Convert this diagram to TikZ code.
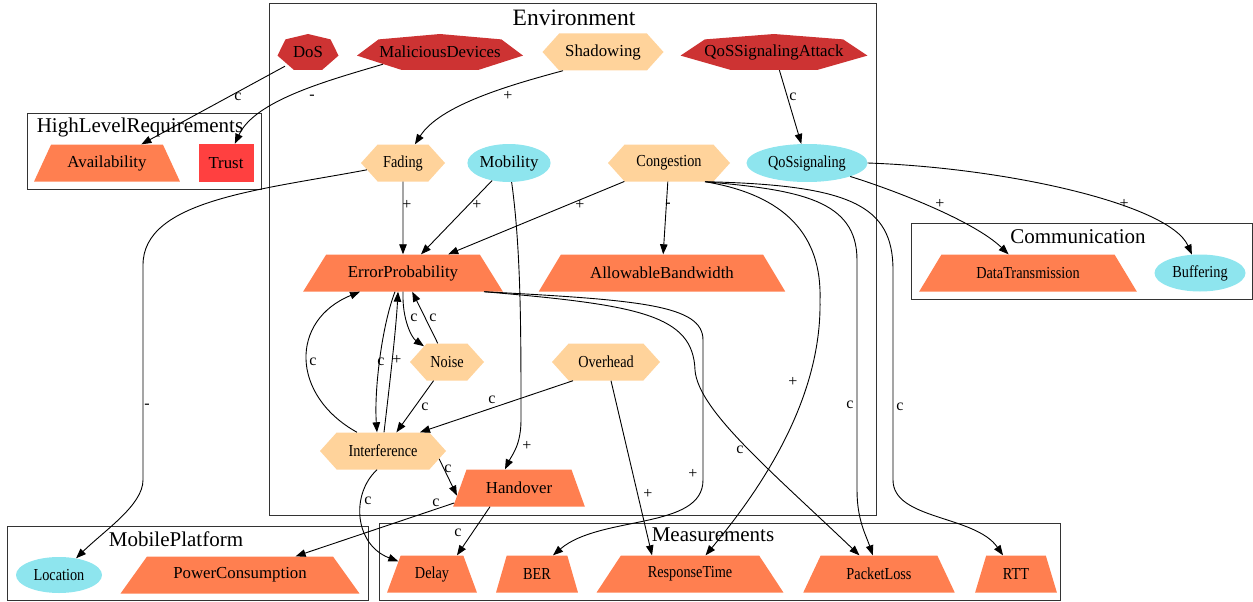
\documentclass[tikz,border=0pt]{standalone}
\usepackage{fontspec}
\setmainfont{Liberation Serif}
\newfontfamily\narrowfont[FakeStretch=0.85]{Liberation Serif}
\usetikzlibrary{calc,shapes.geometric,shapes.symbols,arrows.meta}
\definecolor{attack}{HTML}{CD3333}
\definecolor{trustred}{HTML}{FF4040}
\definecolor{hexcol}{HTML}{FFD39B}
\definecolor{ellcol}{HTML}{8EE5EE}
\definecolor{trapcol}{HTML}{FF7F50}
\newcommand\nodesize{\fontsize{16.8}{19}\selectfont}

\begin{document}
\begin{tikzpicture}
[x=1pt,y=-1pt,
 ar/.style={-{Triangle[length=10pt,width=7.5pt]},line width=0.9pt},
 lbl/.style={font=\fontsize{16}{16}\selectfont,inner sep=0pt},
 box/.style={draw=black!80,line width=0.9pt},
 title/.style={font=\fontsize{21}{21}\selectfont,inner sep=0pt},
 sept/.style={rectangle,inner sep=0pt,minimum height=36pt,font=\nodesize,
   path picture={\fill[attack] let \p1=(path picture bounding box.south west),
     \p2=(path picture bounding box.north east) in
     ({(\x1+\x2)/2},\y2) -- ({\x1+0.87*(\x2-\x1)},{\y1+0.85*(\y2-\y1)})
     -- (\x2,{\y1+0.4*(\y2-\y1)}) -- ({\x1+0.73*(\x2-\x1)},\y1)
     -- ({\x1+0.27*(\x2-\x1)},\y1) -- (\x1,{\y1+0.4*(\y2-\y1)})
     -- ({\x1+0.13*(\x2-\x1)},{\y1+0.85*(\y2-\y1)}) -- cycle;}},
 hexa/.style={signal,signal to=west and east,signal pointer angle=96,fill=hexcol,
   inner sep=0pt,minimum height=37pt,font=\nodesize},
 trap/.style={trapezium,trapezium stretches=true,trapezium angle=#1,fill=trapcol,
   inner sep=0pt,minimum height=37pt,font=\nodesize},
 ell/.style={ellipse,fill=ellcol,inner sep=0pt,minimum height=37pt,font=\nodesize},
 narrow/.style={font=\nodesize\narrowfont}]
\useasboundingbox (0,0) rectangle (1253,602);

\draw [box] (269,3) rectangle (876,515);
\draw [box] (27,113) rectangle (261,189);
\draw [box] (911,223) rectangle (1252,299);
\draw [box] (7,526) rectangle (368,600);
\draw [box] (379,523) rectangle (1060,600);
\node [title,font=\fontsize{23.5}{24}\selectfont] at (574,18) (envtitle) {Environment};
\node [title] at (140,127) (hlrtitle) {HighLevelRequirements};
\node [title] at (1078,237) (comtitle) {Communication};
\node [title] at (176,539) (mobtitle) {MobilePlatform};
\node [title] at (713,535) (meastitle) {Measurements};

\node [sept,minimum width=61pt] at (308,52) (dos) {DoS};
\node [sept,minimum width=166pt] at (440,52) (malicious) {MaliciousDevices};
\node [hexa,minimum width=121pt] at (603,52) (shadowing) {Shadowing};
\node [sept,minimum width=187pt] at (774,52) (qosattack) {QoSSignalingAttack};

\node [hexa,narrow,minimum width=84pt] at (403,163) (fading) {Fading};
\node [ell,minimum width=82pt,minimum height=38pt] at (509,163) (mobility) {Mobility};
\node [hexa,narrow,minimum width=122pt] at (669,163) (congestion) {Congestion};
\node [ell,narrow,minimum width=121pt,minimum height=38pt] at (807,163) (qossig) {QoSsignaling};

\node [trap=42.8,minimum width=200pt] at (403,273) (errprob) {ErrorProbability};
\node [trap=36.8,minimum width=247pt] at (662,273) (bandwidth) {AllowableBandwidth};
\node [hexa,narrow,minimum width=74pt] at (447,362) (noise) {Noise};
\node [hexa,narrow,minimum width=108pt] at (606,362) (overhead) {Overhead};
\node [hexa,narrow,minimum width=126pt] at (383,451) (interf) {Interference};
\node [trap=54.5,minimum width=132pt] at (519,488) (handover) {Handover};

\node [trap=51.7,minimum width=146pt] at (107,163) (avail) {Availability};
\node [fill=trustred,font=\nodesize,inner sep=0pt,minimum width=55pt,minimum height=38pt] at (226,163) (trust) {Trust};

\node [trap=40.3,narrow,minimum width=218pt] at (1028,273) (datatx) {DataTransmission};
\node [ell,narrow,minimum width=91pt] at (1200,273) (buffering) {Buffering};

\node [ell,narrow,minimum width=86pt,minimum height=36pt] at (59,575) (location) {Location};
\node [trap=37.7,minimum width=239pt] at (240,575) (power) {PowerConsumption};

\node [trap=64.1,narrow,minimum width=90pt] at (432,574) (delay) {Delay};
\node [trap=66.1,narrow,minimum width=82pt] at (537,574) (ber) {BER};
\node [trap=44.7,narrow,minimum width=187pt] at (690,574) (resptime) {ResponseTime};
\node [trap=50.6,narrow,minimum width=152pt] at (879,574) (packetloss) {PacketLoss};
\node [trap=66.1,narrow,minimum width=82pt] at (1016,574) (rtt) {RTT};

\draw [ar] ([xshift=-23pt,yshift=4pt]dos.south) -- (avail) node[lbl] at (238,97) {c};
\draw [ar] ([xshift=-57pt,yshift=6pt]malicious.south) .. controls (330,80) and (255,100) .. (trust) node[lbl] at (312,97) {-};
\draw [ar] ([xshift=-40pt]shadowing.south) .. controls (510,85) and (440,105) .. (fading) node[lbl] at (508,96) {+};
\draw [ar] (qosattack) -- (qossig) node[lbl] at (793,97) {c};

\draw [ar] (fading) -- (errprob) node[lbl] at (407,205) {+};
\draw [ar] (mobility) -- (errprob) node[lbl] at (477,205) {+};
\draw [ar] (congestion) -- (errprob) node[lbl] at (580,205) {+};
\draw [ar] (congestion) -- (bandwidth) node[lbl] at (668,205) {-};
\draw [ar] (fading) .. controls (260,190) and (143,200) .. (143,265) -- (143,480) .. controls (143,505) and (105,530) .. (location) node[lbl] at (147,406) {-};

\draw [ar] ([xshift=36pt]congestion.south) .. controls (785,195) and (822,235) .. (820,300) .. controls (822,400) and (760,490) .. (resptime) node[lbl] at (793,382) {+};
\draw [ar] ([xshift=36pt]congestion.south) .. controls (800,190) and (857,200) .. (857,260) -- (857,490) .. controls (857,520) and (866,535) .. (packetloss) node[lbl] at (850,405) {c};
\draw [ar] ([xshift=36pt]congestion.south) .. controls (850,185) and (893,205) .. (893,270) -- (893,480) .. controls (893,520) and (975,515) .. (rtt) node[lbl] at (900,407) {c};

\draw [ar] (qossig) .. controls (900,192) and (975,222) .. (datatx) node[lbl] at (940,204) {+};
\draw [ar] (qossig.east) .. controls (1010,168) and (1170,205) .. (buffering) node[lbl] at (1124,204) {+};

\draw [ar] (errprob.south) .. controls (402,320) and (412,338) .. (noise) node[lbl] at (414,318) {c};
\draw [ar] (noise) -- (errprob) node[lbl] at (433,318) {c};
\draw [ar] ([xshift=-8pt]errprob.south) .. controls (382,325) and (374,390) .. ([xshift=-6pt]interf.north) node[lbl] at (381,362) {c};
\draw [ar] ([xshift=1pt]interf.north) .. controls (389,390) and (396,330) .. ([xshift=-5pt]errprob.south) node[lbl] at (397,360) {+};
\draw [ar] ([xshift=-26pt]interf.north) .. controls (290,395) and (290,320) .. ([xshift=-43pt]errprob.south) node[lbl] at (313,362) {c};
\draw [ar] (noise) -- (interf) node[lbl] at (425,407) {c};
\draw [ar] ([xshift=-33pt]overhead.south) -- ([xshift=37pt]interf.north) node[lbl] at (492,400) {c};

\draw [ar] (mobility) .. controls (521,250) and (521,330) .. (521,420) .. controls (521,445) and (512,455) .. ([xshift=-14pt]handover.north) node[lbl] at (527,446) {+};
\draw [ar] ([xshift=5pt]overhead.south) -- ([xshift=-38pt]resptime.north) node[lbl] at (648,494) {+};
\draw [ar] (interf.-8) -- (handover.187) node[lbl] at (448,469) {c};
\draw [ar] ([xshift=-6pt]interf.south) .. controls (350,495) and (355,545) .. (delay) node[lbl] at (368,501) {c};
\draw [ar] (handover.193) -- (power) node[lbl] at (436,503) {c};
\draw [ar] ([xshift=-29pt]handover.south) -- ([xshift=25pt]delay.north) node[lbl] at (458,533) {c};

\draw [ar] (errprob.-13) .. controls (640,300) and (703,305) .. (703,340) -- (703,480) .. controls (703,530) and (600,515) .. ([xshift=16pt]ber.north) node[lbl] at (693,474) {+};
\draw [ar] (errprob.-13) .. controls (640,305) and (693,315) .. (695,370) .. controls (698,410) and (770,470) .. (packetloss) node[lbl] at (740,450) {c};
\end{tikzpicture}
\end{document}
